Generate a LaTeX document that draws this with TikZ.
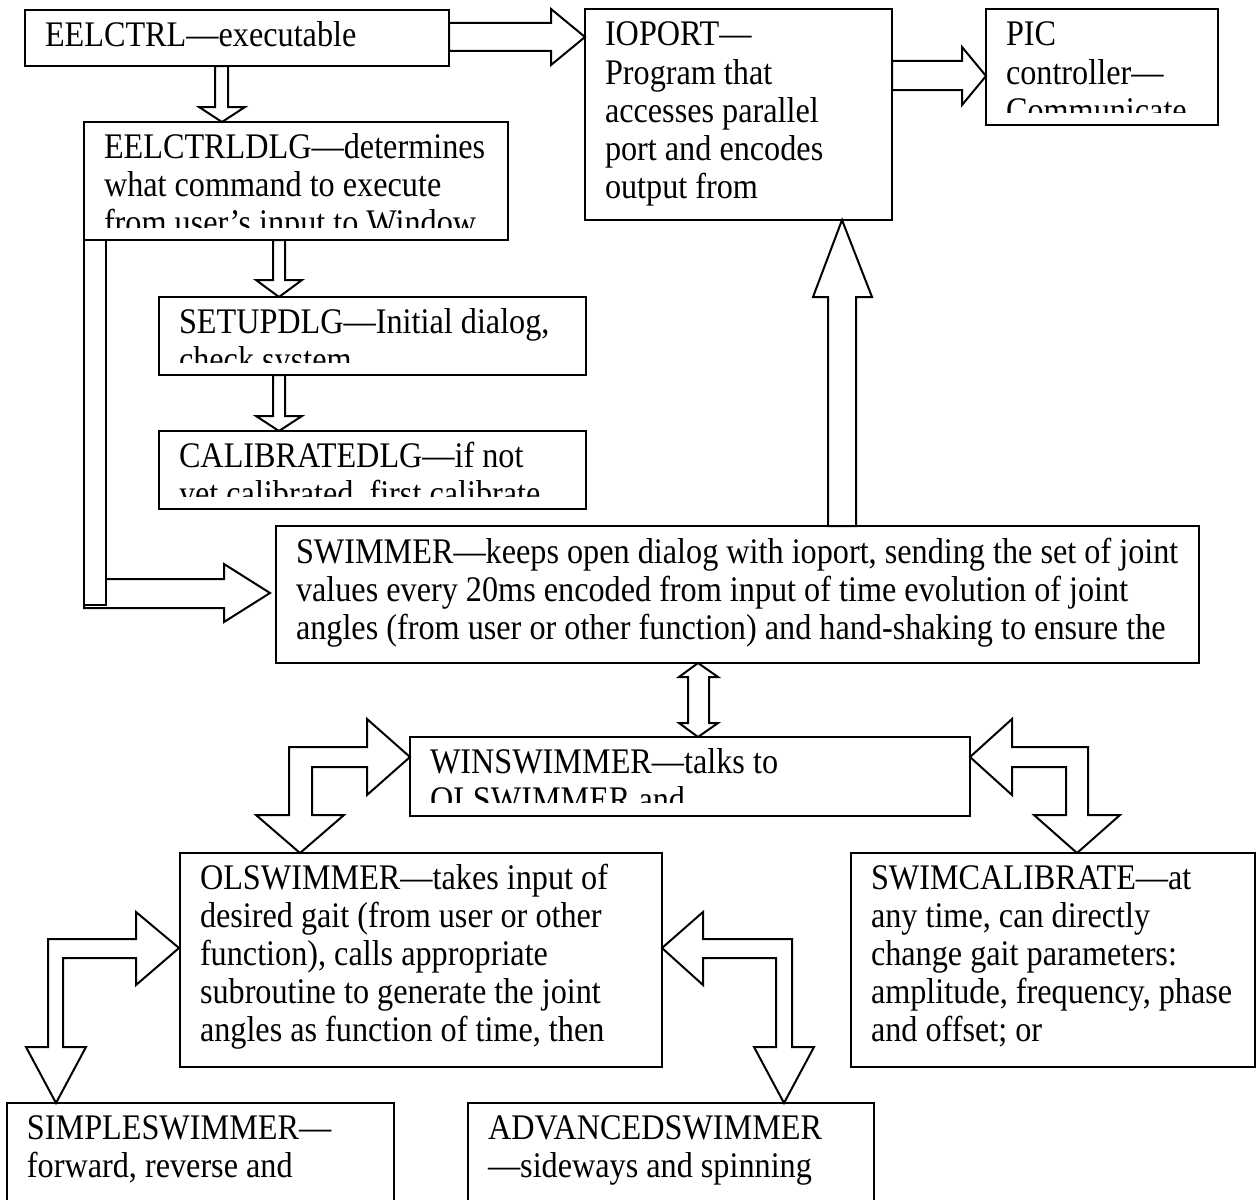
\documentclass[tikz,border=0pt]{standalone}
\usepackage{fontspec}
\setmainfont{Liberation Serif}[FakeStretch=0.895]
\begin{document}
\begin{tikzpicture}[x=1pt,y=-1pt,
  box/.style={draw, line width=2pt, rectangle, inner sep=0pt, outer sep=0pt, anchor=north west},
  txt/.style={inner sep=0pt, outer sep=0pt, anchor=base west, font=\fontsize{36}{38}\selectfont},
  blk/.style={draw, fill=white, line width=2pt, line join=miter}]
\useasboundingbox (0,0) rectangle (1257,1199);
\clip (0,0) rectangle (1257,1199);
\fill[white] (0,0) rectangle (1257,1199);

% ---------- boxes ----------
\node[box, minimum width=424pt, minimum height=56pt]  (eel)     at (25,10)   {};
\node[box, minimum width=307pt, minimum height=211pt] (ioport)  at (585,9)   {};
\node[box, minimum width=232pt, minimum height=116pt] (pic)     at (986,9)   {};
\node[box, minimum width=424pt, minimum height=118pt] (dlg)     at (84,122)  {};
\node[box, minimum width=427pt, minimum height=78pt]  (setup)   at (159,297) {};
\node[box, minimum width=427pt, minimum height=78pt]  (calib)   at (159,431) {};
\node[box, minimum width=923pt, minimum height=137pt] (swim)    at (276,526) {};
\node[box, minimum width=560pt, minimum height=79pt]  (winswim) at (410,737) {};
\node[box, minimum width=482pt, minimum height=214pt] (olswim)  at (180,853) {};
\node[box, minimum width=404pt, minimum height=214pt] (swimcal) at (851,853) {};
\node[box, minimum width=387pt, minimum height=120pt] (simple)  at (7,1103)  {};
\node[box, minimum width=406pt, minimum height=120pt] (adv)     at (468,1103) {};

% ---------- texts (clipped to the inner text area) ----------
\begin{scope}\clip (27,12) rectangle (447,56);
\node[txt] (eel-t) at (45,47) {EELCTRL—executable};\end{scope}
\begin{scope}\clip (587,11) rectangle (890,207);
\node[txt] (ioport-t) at (605,46) {\parbox[t]{280pt}{IOPORT—\\Program that\\accesses parallel\\port and encodes\\output from}};\end{scope}
\begin{scope}\clip (988,11) rectangle (1216,112);
\node[txt] (pic-t) at (1006,46) {\parbox[t]{220pt}{PIC\\controller—\\Communicate}};\end{scope}
\begin{scope}\clip (86,124) rectangle (506,227);
\node[txt] (dlg-t) at (104,158) {\parbox[t]{420pt}{EELCTRLDLG—determines\\what command to execute\\from user’s input to Window}};\end{scope}
\begin{scope}\clip (161,299) rectangle (584,362);
\node[txt] (setup-t) at (179,333) {\parbox[t]{420pt}{SETUPDLG—Initial dialog,\\check system}};\end{scope}
\begin{scope}\clip (161,433) rectangle (584,496);
\node[txt] (calib-t) at (179,467) {\parbox[t]{420pt}{CALIBRATEDLG—if not\\yet calibrated, first calibrate}};\end{scope}
\begin{scope}\clip (278,528) rectangle (1197,650);
\node[txt] (swim-t) at (296,563) {\parbox[t]{900pt}{SWIMMER—keeps open dialog with ioport, sending the set of joint\\values every 20ms encoded from input of time evolution of joint\\angles (from user or other function) and hand-shaking to ensure the}};\end{scope}
\begin{scope}\clip (412,739) rectangle (968,802);
\node[txt] (winswim-t) at (430,773) {\parbox[t]{540pt}{WINSWIMMER—talks to\\OLSWIMMER and}};\end{scope}
\begin{scope}\clip (182,855) rectangle (660,1054);
\node[txt] (olswim-t) at (200,889) {\parbox[t]{470pt}{OLSWIMMER—takes input of\\desired gait (from user or other\\function), calls appropriate\\subroutine to generate the joint\\angles as function of time, then}};\end{scope}
\begin{scope}\clip (853,855) rectangle (1253,1054);
\node[txt] (swimcal-t) at (871,889) {\parbox[t]{400pt}{SWIMCALIBRATE—at\\any time, can directly\\change gait parameters:\\amplitude, frequency, phase\\and offset; or}};\end{scope}
\begin{scope}\clip (9,1105) rectangle (392,1199);
\node[txt] (simple-t) at (27,1139) {\parbox[t]{380pt}{SIMPLESWIMMER—\\forward, reverse and}};\end{scope}
\begin{scope}\clip (470,1105) rectangle (872,1199);
\node[txt] (adv-t) at (488,1139) {\parbox[t]{400pt}{ADVANCEDSWIMMER\\—sideways and spinning}};\end{scope}

% ---------- block arrows ----------
% EELCTRL -> IOPORT
\draw[blk] (449,23)--(551,23)--(551,9)--(585,37)--(551,65)--(551,51)--(449,51)--cycle;
% IOPORT -> PIC
\draw[blk] (892,61)--(962,61)--(962,47)--(986,76)--(962,105)--(962,90)--(892,90)--cycle;
% EELCTRL -> EELCTRLDLG
\draw[blk] (215,66)--(215,107)--(199,107)--(222,122)--(245,107)--(228,107)--(228,66)--cycle;
% EELCTRLDLG -> SETUPDLG
\draw[blk] (273,240)--(273,280)--(256,280)--(279,297)--(302,280)--(285,280)--(285,240)--cycle;
% SETUPDLG -> CALIBRATEDLG
\draw[blk] (273,375)--(273,416)--(256,416)--(279,431)--(302,416)--(285,416)--(285,375)--cycle;
% EELCTRLDLG -> SWIMMER (bar and arrow)
\draw[blk] (84,579)--(224,579)--(224,564)--(270,593)--(224,622)--(224,608)--(84,608)--cycle;
\draw[blk] (84,240) rectangle (106,605);
% SWIMMER -> IOPORT
\draw[blk] (828,526)--(828,297)--(813,297)--(842,220)--(872,297)--(856,297)--(856,526)--cycle;
% SWIMMER <-> WINSWIMMER
\draw[blk] (688,677)--(679,677)--(698,663)--(718,677)--(709,677)--(709,723)--(718,723)--(698,737)--(679,723)--(688,723)--cycle;
% WINSWIMMER <-> OLSWIMMER
\draw[blk] (289,815)--(289,747)--(367,747)--(367,719)--(410,757)--(367,795)--(367,767)--(312,767)--(312,815)--(344,815)--(300,853)--(256,815)--cycle;
% WINSWIMMER <-> SWIMCALIBRATE
\draw[blk] (1012,719)--(1012,747)--(1088,747)--(1088,815)--(1120,815)--(1077,853)--(1034,815)--(1066,815)--(1066,767)--(1012,767)--(1012,795)--(970,757)--cycle;
% OLSWIMMER <-> SIMPLESWIMMER
\draw[blk] (48,1047)--(48,939)--(136,939)--(136,912)--(179,948)--(136,985)--(136,958)--(63,958)--(63,1047)--(86,1047)--(56,1103)--(26,1047)--cycle;
% OLSWIMMER <-> ADVANCEDSWIMMER
\draw[blk] (662,948)--(703,912)--(703,939)--(792,939)--(792,1047)--(814,1047)--(784,1103)--(754,1047)--(776,1047)--(776,958)--(703,958)--(703,985)--cycle;
\end{tikzpicture}
\end{document}
